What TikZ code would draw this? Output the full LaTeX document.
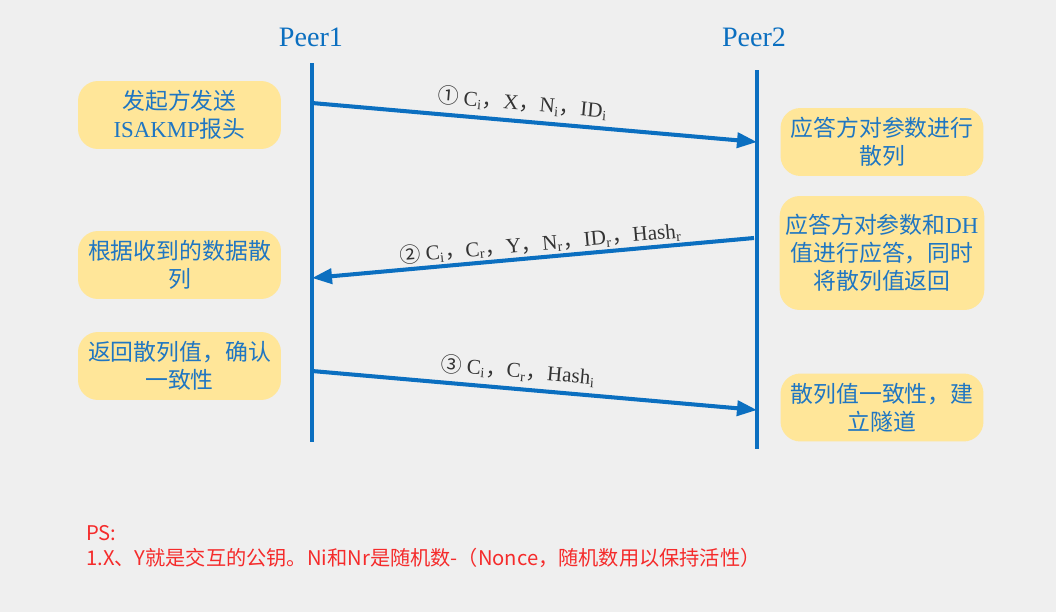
\documentclass[tikz,border=0pt]{standalone}
\usepackage{fontspec}
\setmainfont{Noto Sans CJK SC}
\newfontfamily\lat{Liberation Serif}
\usetikzlibrary{arrows.meta}

\definecolor{bgcol}{HTML}{EFEFEF}
\definecolor{lineblue}{HTML}{0B6FC0}
\definecolor{boxfill}{HTML}{FFE699}
\definecolor{boxtext}{HTML}{1F76C2}
\definecolor{labeltext}{HTML}{333333}
\definecolor{notered}{HTML}{F52B2B}

\tikzset{
    peerlabel/.style={text=lineblue, font=\lat\fontsize{16}{19}\selectfont},
    lifeline/.style={draw=lineblue, line width=2.3pt},
    msg/.style={lifeline, -{Triangle[length=0.4cm,width=0.3cm]}},
    notebox/.style={fill=boxfill, rounded corners=0.4cm, minimum width=4.06cm,
        minimum height=1.36cm, align=center, text=boxtext,
        font=\fontsize{13}{16}\selectfont},
    msglabel/.style={sloped, above, text=labeltext, font=\fontsize{12}{14}\selectfont},
    pstext/.style={anchor=west, text=notered, font=\fontsize{11.5}{14}\selectfont}
}
\newcommand{\en}[1]{{\lat #1}}

\begin{document}
\begin{tikzpicture}[x=0.02cm, y=-0.02cm]
    \fill[bgcol] (0,0) rectangle (1056,612);

    \node[peerlabel] (peer1) at (311,37) {Peer1};
    \node[peerlabel] (peer2) at (754,37) {Peer2};

    \coordinate (p1top) at (312,63);
    \coordinate (p1bot) at (312,442);
    \coordinate (p2top) at (757,70);
    \coordinate (p2bot) at (757,449);
    \draw[lifeline] (p1top) -- (p1bot);
    \draw[lifeline] (p2top) -- (p2bot);

    % messages
    \coordinate (m1s) at (312,103);
    \coordinate (m1e) at (757,142);
    \coordinate (m2s) at (754,238);
    \coordinate (m2e) at (312,278);
    \coordinate (m3s) at (312,371);
    \coordinate (m3e) at (757,410);
    \draw[msg] (m1s) -- node[msglabel, pos=0.47] {① \en{C\textsubscript{i}}，\en{X}，\en{N\textsubscript{i}}，\en{ID\textsubscript{i}}} (m1e);
    \draw[msg] (m2s) -- node[msglabel, pos=0.48, inner sep=1pt] {② \en{C\textsubscript{i}}，\en{C\textsubscript{r}}，\en{Y}，\en{N\textsubscript{r}}，\en{ID\textsubscript{r}}，\en{Hash\textsubscript{r}}} (m2e);
    \draw[msg] (m3s) -- node[msglabel, pos=0.46] {③ \en{C\textsubscript{i}}，\en{C\textsubscript{r}}，\en{Hash\textsubscript{i}}} (m3e);

    % peer1 notes
    \node[notebox] (init) at (179.5,115) {发起方发送\\\en{ISAKMP}报头};
    \node[notebox] (hashr) at (179.5,265) {根据收到的数据散\\列};
    \node[notebox] (check) at (179.5,366) {返回散列值，确认\\一致性};

    % peer2 notes
    \node[notebox] (resp) at (882,142) {应答方对参数进行\\散列};
    \node[notebox, minimum height=2.28cm] (reply) at (882,253) {应答方对参数和\en{DH}\\值进行应答，同时\\将散列值返回};
    \node[notebox] (tunnel) at (882,407.5) {散列值一致性，建\\立隧道};

    \node[pstext] (ps) at (80,533) {PS:};
    \node[pstext] (note) at (80,558) {1.X、Y就是交互的公钥。Ni和Nr是随机数-（Nonce，随机数用以保持活性）};
\end{tikzpicture}
\end{document}
